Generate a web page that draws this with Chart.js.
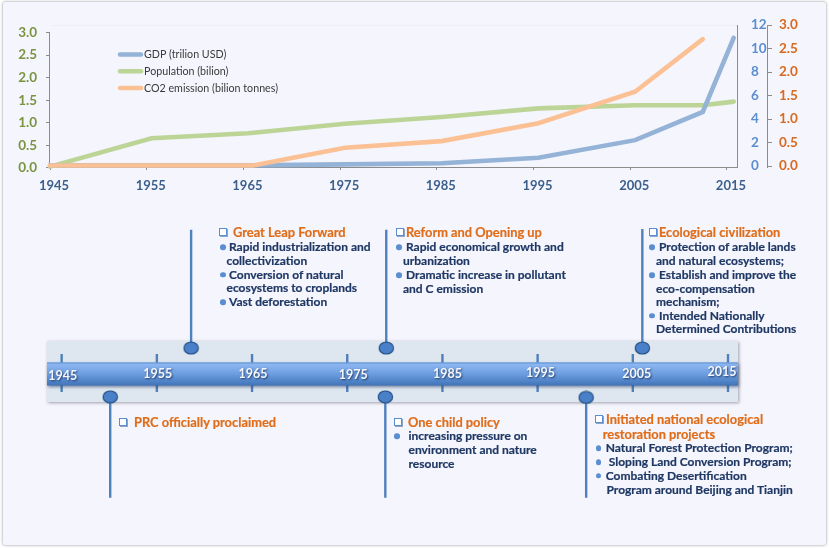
<!DOCTYPE html>
<html>
<head>
<meta charset="utf-8">
<script src="https://cdn.jsdelivr.net/npm/chart.js@4"></script>
<style>
  html, body { margin: 0; padding: 0; background: #fff; width: 829px; height: 548px; overflow: hidden; }
  #sheet { position: absolute; left: 0; top: 0; width: 829px; height: 548px; filter: blur(0.35px); }
  #panel { position: absolute; left: 3px; top: 2px; width: 823px; height: 543px; background: #f5f5fe;
           box-shadow: 0 0 3px #8a8a90; border-radius: 2px; }
  canvas { position: absolute; left: 0; top: 0; }
  .t { position: absolute; white-space: nowrap; font-family: Lato, sans-serif; font-weight: 700; transform: translateY(-50%); -webkit-text-stroke: 0.2px currentColor; }
  .body { font-size: 12px; color: #1f3864; line-height: 14px; }
  .head { font-size: 12.85px; color: #df6d1a; line-height: 16px; }
  .box { position: absolute; width: 6px; height: 6px; border: 1.5px solid #5b8ed0; background: #fff; box-shadow: 1px 1px 0 #8fa5c4; transform: translateY(-50%); }
  .dot { position: absolute; width: 5.5px; height: 5.5px; border-radius: 50%; background: #5b8ed0; transform: translateY(-50%); }
</style>
</head>
<body>
<div id="sheet">
<div id="panel"></div>
<canvas id="trendChart" width="829" height="548"></canvas>
<canvas id="timelineChart" width="829" height="548"></canvas>
<div id="notes"></div>
</div>
<script>
// trend chart values
const yearTicks = [1945, 1955, 1965, 1975, 1985, 1995, 2005, 2015];
const gdpYears = [1945, 1955.5, 1965.5, 1975.5, 1985.5, 1995.5, 2005.5, 2012.5, 2015.7];
const gdpValues = [0.05, 0.05, 0.05, 0.14, 0.23, 0.7, 2.2, 4.6, 10.9];
const popYears = [1945, 1955.5, 1965.5, 1975.5, 1985.5, 1995.5, 2005.5, 2012.5, 2015.7];
const popValues = [0.03, 0.66, 0.77, 0.98, 1.13, 1.32, 1.39, 1.39, 1.47];
const co2Years = [1945, 1955.5, 1966, 1975.5, 1985.5, 1995.5, 2005.5, 2012.5];
const co2Values = [0.01, 0.01, 0.01, 0.39, 0.53, 0.91, 1.58, 2.7];
const leftTicks = [0, 0.5, 1, 1.5, 2, 2.5, 3];
const gdpTicks = [0, 2, 4, 6, 8, 10, 12];
const co2Ticks = [0, 0.5, 1, 1.5, 2, 2.5, 3];

// timeline values
const eventYears = [1950.1, 1958.6, 1979.1, 1979, 2000.1, 2006];
const eventMarks = [-0.83, 0.77, 0.77, -0.83, -0.85, 0.77];
const eventTips = [-4.14, 4.65, 4.65, -4.14, -4.14, 4.67];
const bandLabelNudge = [1, 1, 1, 6, 5, 3, 4, -6];
const bandLabelRise = [-0.8, -2.8, -2.2, -1.8, -2.8, -3.5, -2.5, -4.5];

const FONT = 'Lato, sans-serif';
const keepTicks = list => axis => { axis.ticks = list.map(v => ({ value: v })); };

const trendDecor = {
    id: 'trendDecor',
    beforeDatasetsDraw(chart) {
        const { ctx, chartArea: a } = chart;
        ctx.save();
        ctx.strokeStyle = '#eeeef6';
        ctx.lineWidth = 1;
        ctx.beginPath();
        ctx.moveTo(a.left, a.top + 0.5);
        ctx.lineTo(a.right, a.top + 0.5);
        ctx.stroke();
        // left axis stops at its 3.0 tick
        const y3 = chart.scales.yLeft.getPixelForValue(3);
        const y0 = chart.scales.yLeft.getPixelForValue(0);
        ctx.strokeStyle = '#8c8c8c';
        ctx.beginPath();
        ctx.moveTo(a.left - 0.5, y3);
        ctx.lineTo(a.left - 0.5, y0);
        ctx.stroke();
        ctx.restore();
    },
    afterDraw(chart) {
        const { ctx } = chart;
        const order = ['GDP (trilion USD)', 'Population (bilion)', 'CO2 emission (bilion tonnes)'];
        ctx.save();
        ctx.font = '10.7px ' + FONT;
        ctx.textBaseline = 'middle';
        order.forEach((name, i) => {
            const ds = chart.data.datasets.find(d => d.label === name);
            const y = 54.5 + i * 16.8;
            ctx.strokeStyle = ds.borderColor;
            ctx.lineWidth = 4.5;
            ctx.lineCap = 'round';
            ctx.beginPath();
            ctx.moveTo(120, y);
            ctx.lineTo(141, y);
            ctx.stroke();
            ctx.fillStyle = '#3a3a3a';
            ctx.fillText(name, 144, y);
        });
        ctx.restore();
    }
};

function toPoints(xs, ys) {
    return xs.map((x, i) => ({ x: x, y: ys[i] }));
}

function lineSet(label, xs, ys, colour, axisId, drawOrder) {
    return {
        label: label,
        data: toPoints(xs, ys),
        yAxisID: axisId,
        borderColor: colour,
        borderWidth: 4.6,
        borderCapStyle: 'round',
        borderJoinStyle: 'miter',
        pointRadius: 0,
        tension: 0,
        clip: false,
        order: drawOrder
    };
}

new Chart(document.getElementById('trendChart'), {
    type: 'line',
    data: {
        datasets: [
            lineSet('GDP (trilion USD)', gdpYears, gdpValues, '#94b3d6', 'yGdp', 2),
            lineSet('Population (bilion)', popYears, popValues, '#bcd596', 'yLeft', 3),
            lineSet('CO2 emission (bilion tonnes)', co2Years, co2Values, '#fbc194', 'yCo2', 1)
        ]
    },
    options: {
        responsive: false,
        animation: false,
        events: [],
        layout: { padding: { left: 0, top: 25, right: 22, bottom: 351 } },
        plugins: { legend: { display: false }, tooltip: { enabled: false } },
        scales: {
            x: {
                type: 'linear',
                min: 1945,
                max: 2016.04,
                afterBuildTicks: keepTicks(yearTicks),
                afterFit: s => { s.height = 30; },
                border: { color: '#8c8c8c' },
                grid: { display: true, drawOnChartArea: false, tickLength: 3, color: '#8c8c8c' },
                ticks: {
                    color: '#3b5f8a',
                    font: { family: FONT, size: 13, weight: 'bold' },
                    padding: 8,
                    labelOffset: 4,
                    maxRotation: 0,
                    callback: v => String(v)
                }
            },
            yLeft: {
                position: 'left',
                min: 0.022,
                max: 3.166,
                afterBuildTicks: keepTicks(leftTicks),
                afterFit: s => { s.width = 50; },
                border: { display: false },
                grid: { drawOnChartArea: false, tickLength: 4, color: '#8c8c8c' },
                ticks: {
                    color: '#7a9440',
                    font: { family: FONT, size: 13.5, weight: 'bold' },
                    padding: 9,
                    callback: v => v.toFixed(1)
                }
            },
            yGdp: {
                position: 'right',
                weight: 0,
                min: -0.085,
                max: 12,
                afterBuildTicks: keepTicks(gdpTicks),
                afterFit: s => { s.width = 30; },
                border: { color: '#8c8c8c' },
                grid: { display: false, drawTicks: false },
                ticks: {
                    color: '#5b8ed0',
                    font: { family: FONT, size: 13.5, weight: 'bold' },
                    padding: 14,
                    callback: v => String(v)
                }
            },
            yCo2: {
                position: 'right',
                weight: 1,
                min: -0.021,
                max: 3,
                afterBuildTicks: keepTicks(co2Ticks),
                afterFit: s => { s.width = 40; },
                border: { color: '#8c8c8c' },
                grid: { drawOnChartArea: false, tickLength: 5, color: '#8c8c8c' },
                ticks: {
                    color: '#d9691e',
                    font: { family: FONT, size: 13.5, weight: 'bold' },
                    padding: 7,
                    callback: v => v.toFixed(1)
                }
            }
        }
    },
    plugins: [trendDecor]
});

// flattened oval used for the event markers
function ovalMarker() {
    const c = document.createElement('canvas');
    c.width = 17;
    c.height = 14;
    const g = c.getContext('2d');
    g.beginPath();
    g.ellipse(8.5, 7, 7.2, 6, 0, 0, Math.PI * 2);
    g.fillStyle = '#4a80c8';
    g.fill();
    g.lineWidth = 1.1;
    g.strokeStyle = '#1f4a80';
    g.stroke();
    return c;
}
const marker = ovalMarker();

const timelineBand = {
    id: 'timelineBand',
    beforeDraw(chart) {
        const { ctx, chartArea: a, scales } = chart;
        ctx.save();
        ctx.shadowColor = 'rgba(90,90,100,0.55)';
        ctx.shadowBlur = 3;
        ctx.shadowOffsetX = 1;
        ctx.shadowOffsetY = 1;
        ctx.fillStyle = '#dee6f0';
        ctx.fillRect(a.left, a.top, a.width, a.height);
        ctx.shadowColor = 'transparent';
        const mid = scales.y.getPixelForValue(0);
        ctx.fillStyle = '#4f81b8';
        yearTicks.forEach(yr => {
            ctx.fillRect(scales.x.getPixelForValue(yr) - 1.2, mid - 17.5, 2.4, 38);
        });
        const g = ctx.createLinearGradient(0, mid - 9, 0, mid + 14);
        g.addColorStop(0, '#93bbf4');
        g.addColorStop(0.5, '#6d9de0');
        g.addColorStop(1, '#3f73b8');
        ctx.shadowColor = 'rgba(40,60,100,0.6)';
        ctx.shadowBlur = 3;
        ctx.shadowOffsetY = 1.5;
        ctx.fillStyle = g;
        ctx.fillRect(a.left, mid - 9, a.width, 23);
        ctx.shadowColor = 'transparent';
        ctx.fillStyle = '#5b8fd0';
        ctx.fillRect(a.left, mid - 9, a.width, 1);
        ctx.restore();
    },
    afterDraw(chart) {
        const { ctx, scales } = chart;
        const mid = scales.y.getPixelForValue(0);
        ctx.save();
        ctx.font = 'bold 12.5px ' + FONT;
        ctx.textAlign = 'center';
        ctx.textBaseline = 'middle';
        ctx.fillStyle = '#f4f7fb';
        ctx.shadowColor = 'rgba(20,40,80,0.8)';
        ctx.shadowBlur = 2;
        ctx.shadowOffsetX = 1;
        ctx.shadowOffsetY = 1;
        yearTicks.forEach((yr, i) => {
            ctx.fillText(String(yr), scales.x.getPixelForValue(yr) + bandLabelNudge[i], mid + 5 + bandLabelRise[i]);
        });
        ctx.restore();
    }
};

new Chart(document.getElementById('timelineChart'), {
    type: 'line',
    data: {
        datasets: eventYears.map((yr, i) => ({
            data: [{ x: yr, y: eventTips[i] }, { x: yr, y: eventMarks[i] }],
            borderColor: '#4f81bd',
            borderWidth: 2.4,
            pointRadius: [0, 7],
            pointStyle: marker,
            clip: false,
            tension: 0
        }))
    },
    options: {
        responsive: false,
        animation: false,
        events: [],
        layout: { padding: { left: 47, right: 91, top: 341, bottom: 146 } },
        plugins: { legend: { display: false }, tooltip: { enabled: false } },
        scales: {
            x: { type: 'linear', min: 1943.46, max: 2016.05, display: false },
            y: { min: -1, max: 1, display: false }
        }
    },
    plugins: [timelineBand]
});

// callout text, every entry: kind, x, y, text
const noteLines = [
    ['box', 219, 232], ['head', 233, 232, 'Great Leap Forward'],
    ['dot', 220, 247], ['body', 229, 247, 'Rapid industrialization and'],
    ['body', 226.5, 261, 'collectivization'],
    ['dot', 220, 274.5], ['body', 229, 274.5, 'Conversion of natural'],
    ['body', 226.5, 288, 'ecosystems to croplands'],
    ['dot', 220, 302], ['body', 229, 302, 'Vast deforestation'],

    ['box', 396, 232], ['head', 406, 232, 'Reform and Opening up'],
    ['dot', 396, 247], ['body', 406, 247, 'Rapid economical growth and'],
    ['body', 403, 261, 'urbanization'],
    ['dot', 396, 275], ['body', 406, 275, 'Dramatic increase in pollutant'],
    ['body', 403, 288.5, 'and C emission'],

    ['box', 649, 232], ['head', 659, 232, 'Ecological civilization'],
    ['dot', 649, 247], ['body', 659, 247, 'Protection of arable lands'],
    ['body', 656, 261, 'and natural ecosystems;'],
    ['dot', 649, 275], ['body', 659, 275, 'Establish and improve the'],
    ['body', 656, 288.5, 'eco-compensation'],
    ['body', 656, 302, 'mechanism;'],
    ['dot', 649, 315.5], ['body', 659, 315.5, 'Intended Nationally'],
    ['body', 656, 329, 'Determined Contributions'],

    ['box', 119, 421.5], ['head', 134, 421.5, 'PRC officially proclaimed'],

    ['box', 394, 421.5], ['head', 408, 421.5, 'One child policy'],
    ['dot', 394, 436], ['body', 408.5, 436, 'increasing pressure on'],
    ['body', 408.5, 450, 'environment and nature'],
    ['body', 408.5, 463.5, 'resource'],

    ['box', 595, 418.5], ['head', 606, 418.5, 'Initiated national ecological'],
    ['head', 602.7, 434, 'restoration projects'],
    ['dot', 595.5, 448], ['body', 605.7, 448, 'Natural Forest Protection Program;'],
    ['dot', 595.5, 462], ['body', 608.7, 462, 'Sloping Land Conversion Program;'],
    ['dot', 595.5, 475.7], ['body', 605.7, 475.7, 'Combating Desertification'],
    ['body', 606.5, 489.5, 'Program around Beijing and Tianjin']
];

const notesNode = document.getElementById('notes');
noteLines.forEach(n => {
    const el = document.createElement('div');
    el.className = (n[0] === 'head' || n[0] === 'body') ? 't ' + n[0] : n[0];
    el.style.left = n[1] + 'px';
    el.style.top = n[2] + 'px';
    if (n[3]) el.textContent = n[3];
    notesNode.appendChild(el);
});
</script>
</body>
</html>
